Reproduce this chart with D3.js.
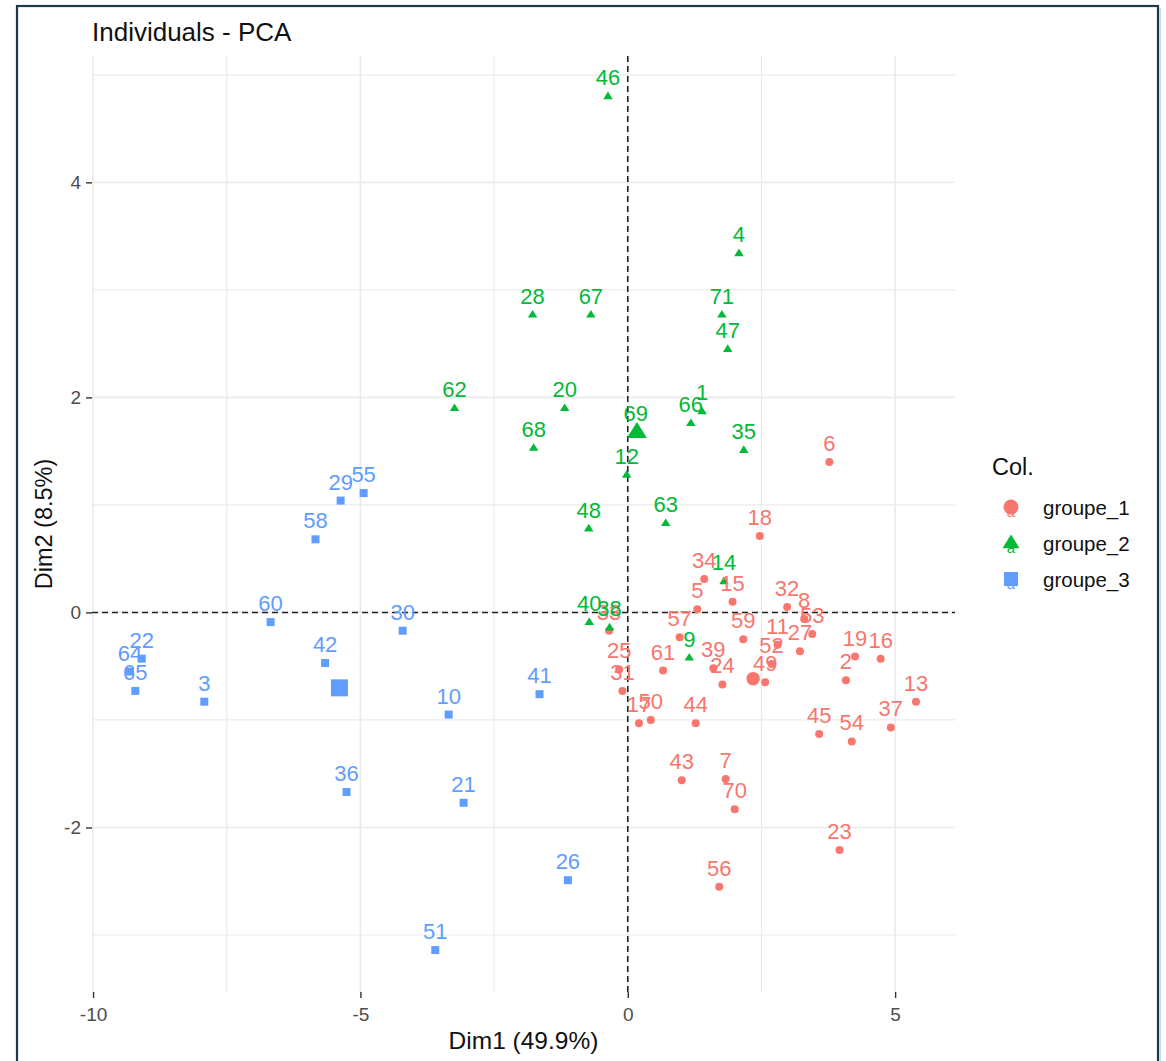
<!DOCTYPE html>
<html>
<head>
<meta charset="utf-8">
<script src="https://cdn.jsdelivr.net/npm/d3@7"></script>
<style>
  html, body { margin: 0; padding: 0; background: #fff; }
  svg { display: block; font-family: "Liberation Sans", Arial, sans-serif; }
</style>
</head>
<body>
<svg id="chart" width="1166" height="1061"></svg>
<script>
// ---------- data ----------
const groupNames = ["groupe_1", "groupe_2", "groupe_3"];
const groupColors = ["#F8766D", "#00BA38", "#619CFF"];

const g1Ids = [2, 5, 6, 7, 8, 11, 13, 15, 16, 17, 18, 19, 23, 24, 25, 27, 31, 32, 33, 34, 37, 39, 43, 44, 45, 49, 50, 52, 53, 54, 56, 57, 59, 61, 70];
const g1X = [4.08, 1.30, 3.77, 1.83, 3.30, 2.80, 5.39, 1.96, 4.73, 0.21, 2.47, 4.25, 3.96, 1.77, -0.16, 3.22, -0.10, 2.98, -0.35, 1.43, 4.92, 1.60, 1.01, 1.27, 3.58, 2.57, 0.43, 2.69, 3.45, 4.19, 1.71, 0.97, 2.16, 0.66, 2.00];
const g1Y = [-0.63, 0.03, 1.40, -1.55, -0.06, -0.30, -0.83, 0.10, -0.43, -1.03, 0.71, -0.41, -2.21, -0.67, -0.53, -0.36, -0.73, 0.05, -0.17, 0.31, -1.07, -0.52, -1.56, -1.03, -1.13, -0.65, -1.00, -0.48, -0.20, -1.20, -2.55, -0.23, -0.25, -0.54, -1.83];

const g2Ids = [1, 4, 9, 12, 14, 20, 28, 35, 38, 40, 46, 47, 48, 62, 63, 66, 67, 68, 69, 71];
const g2X = [1.39, 2.08, 1.15, -0.02, 1.80, -1.18, -1.78, 2.17, -0.34, -0.72, -0.37, 1.87, -0.73, -3.24, 0.71, 1.18, -0.69, -1.76, 0.15, 1.76];
const g2Y = [1.87, 3.34, -0.42, 1.28, 0.29, 1.90, 2.77, 1.51, -0.14, -0.09, 4.80, 2.45, 0.78, 1.90, 0.83, 1.76, 2.77, 1.53, 1.68, 2.77];

const g3Ids = [3, 10, 21, 22, 26, 29, 30, 36, 41, 42, 51, 55, 58, 60, 64, 65];
const g3X = [-7.92, -3.35, -3.07, -9.09, -1.12, -5.37, -4.21, -5.26, -1.65, -5.66, -3.60, -4.94, -5.84, -6.68, -9.31, -9.21];
const g3Y = [-0.83, -0.95, -1.77, -0.43, -2.49, 1.04, -0.17, -1.67, -0.76, -0.47, -3.14, 1.11, 0.68, -0.09, -0.55, -0.73];

const xTicks = [-10, -5, 0, 5];
const yTicks = [-2, 0, 2, 4];
const xMinor = [-7.5, -2.5, 2.5];
const yMinor = [-3, -1, 1, 3, 5];

const titleText = "Individuals - PCA";
const xTitle = "Dim1 (49.9%)";
const yTitle = "Dim2 (8.5%)";
const legendTitle = "Col.";

// ---------- build ----------
const groups = [
  {ids: g1Ids, xs: g1X, ys: g1Y},
  {ids: g2Ids, xs: g2X, ys: g2Y},
  {ids: g3Ids, xs: g3X, ys: g3Y}
];
const points = [];
groups.forEach((g, gi) => g.ids.forEach((id, i) => points.push({id, x: g.xs[i], y: g.ys[i], g: gi})));
const centroids = groups.map((g, gi) => ({g: gi, x: d3.mean(g.xs), y: d3.mean(g.ys)}));

const svg = d3.select("#chart");
const P = {left: 92, right: 955, top: 56, bottom: 992};
const x = d3.scaleLinear().domain([-10.02, 6.12]).range([P.left, P.right]);
const y = d3.scaleLinear().domain([-3.53, 5.175]).range([P.bottom, P.top]);

// frame
svg.append("rect").attr("x", 17).attr("y", 6).attr("width", 1141).attr("height", 1080)
  .attr("fill", "none").attr("stroke", "#1d3a4b").attr("stroke-width", 2.2);
svg.append("line").attr("x1", 1160).attr("x2", 1160).attr("y1", 8).attr("y2", 1061)
  .attr("stroke", "#c9dbe8").attr("stroke-width", 2);

// grid
const grid = svg.append("g");
grid.selectAll(".vx").data(xTicks.concat(xMinor)).join("line")
  .attr("x1", d => x(d)).attr("x2", d => x(d)).attr("y1", P.top).attr("y2", P.bottom)
  .attr("stroke", "#ebebeb").attr("stroke-width", d => xTicks.includes(d) ? 1.6 : 1.2);
grid.selectAll(".hy").data(yTicks.concat(yMinor)).join("line")
  .attr("y1", d => y(d)).attr("y2", d => y(d)).attr("x1", P.left).attr("x2", P.right)
  .attr("stroke", "#ebebeb").attr("stroke-width", d => yTicks.includes(d) ? 1.6 : 1.2);

// zero lines
svg.append("line").attr("x1", x(0)).attr("x2", x(0)).attr("y1", P.top).attr("y2", P.bottom)
  .attr("stroke", "#222").attr("stroke-width", 1.6).attr("stroke-dasharray", "6,4");
svg.append("line").attr("y1", y(0)).attr("y2", y(0)).attr("x1", P.left).attr("x2", P.right)
  .attr("stroke", "#222").attr("stroke-width", 1.6).attr("stroke-dasharray", "6,4");

// axes
const xAxis = svg.append("g").attr("transform", `translate(0,${P.bottom})`)
  .call(d3.axisBottom(x).tickValues(xTicks).tickSize(6).tickPadding(10).tickFormat(d3.format("d")));
const yAxis = svg.append("g").attr("transform", `translate(${P.left},0)`)
  .call(d3.axisLeft(y).tickValues(yTicks).tickSize(6).tickPadding(5).tickFormat(d3.format("d")));
[xAxis, yAxis].forEach(a => {
  a.select(".domain").remove();
  a.selectAll(".tick line").attr("stroke", "#333").attr("stroke-width", 1.4);
  a.selectAll(".tick text").attr("fill", "#4d4d4d").style("font-size", "19px")
    .style("font-family", '"Liberation Sans", Arial, sans-serif')
    .text(d => d < 0 ? "-" + Math.abs(d) : d);
});

// symbols
function symPath(gi, s) {
  if (gi === 0) return d3.symbol(d3.symbolCircle, Math.PI * s * s / 4)();
  if (gi === 1) {
    const h = s * 0.8;
    return `M0,${-h * 0.62}L${s / 2},${h * 0.38}L${-s / 2},${h * 0.38}Z`;
  }
  return d3.symbol(d3.symbolSquare, s * s)();
}
const ptSize = [8, 9.5, 8];
const cenSize = [13.5, 20, 17];

svg.append("g").selectAll("path").data(points).join("path")
  .attr("d", d => symPath(d.g, ptSize[d.g]))
  .attr("transform", d => `translate(${x(d.x)},${y(d.y)})`)
  .attr("fill", d => groupColors[d.g]);

svg.append("g").selectAll("text").data(points).join("text")
  .attr("x", d => x(d.x)).attr("y", d => y(d.y) - 11)
  .attr("text-anchor", "middle").attr("fill", d => groupColors[d.g])
  .style("font-size", "22px").text(d => d.id);

svg.append("g").selectAll("path").data(centroids).join("path")
  .attr("d", d => symPath(d.g, cenSize[d.g]))
  .attr("transform", d => `translate(${x(d.x)},${y(d.y)})`)
  .attr("fill", d => groupColors[d.g]);

// titles
svg.append("text").attr("x", 92).attr("y", 41).attr("fill", "#111").style("font-size", "26px").text(titleText);
svg.append("text").attr("x", (P.left + P.right) / 2).attr("y", 1049).attr("text-anchor", "middle")
  .attr("fill", "#111").style("font-size", "24.5px").text(xTitle);
svg.append("text").attr("transform", `translate(52,${(P.top + P.bottom) / 2}) rotate(-90)`)
  .attr("text-anchor", "middle").attr("fill", "#111").style("font-size", "23.5px").text(yTitle);

// legend
const lg = svg.append("g");
lg.append("text").attr("x", 992).attr("y", 475).attr("fill", "#111").style("font-size", "23.5px").text(legendTitle);
groupNames.forEach((name, i) => {
  const cy = 507 + i * 36;
  lg.append("text").attr("x", 1011).attr("y", cy + 10).attr("text-anchor", "middle")
    .attr("fill", groupColors[i]).style("font-size", "15px").text("a");
  lg.append("path").attr("d", symPath(i, [15, 17, 14][i]))
    .attr("transform", `translate(1011,${cy})`).attr("fill", groupColors[i]);
  lg.append("text").attr("x", 1043).attr("y", cy + 8).attr("fill", "#111")
    .style("font-size", "20.5px").text(name);
});
</script>
</body>
</html>
